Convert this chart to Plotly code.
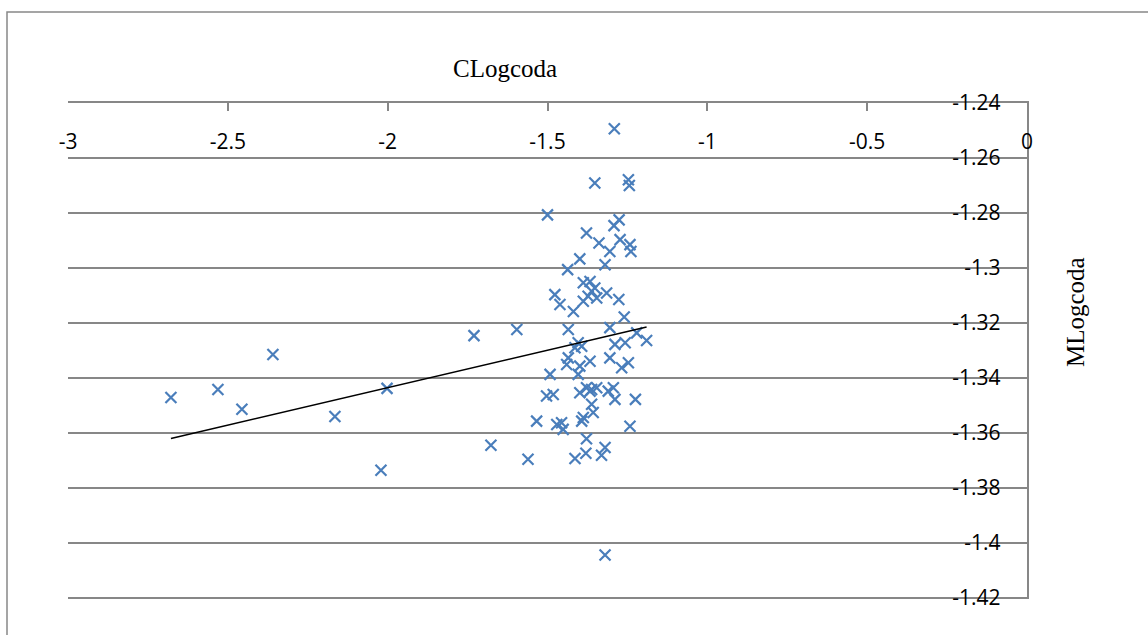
import numpy as np
import plotly.graph_objects as go

# CLogcoda (x) and MLogcoda (y) values
clog = [-2.678, -2.531, -2.456, -2.359, -2.165, -2.021, -2.002, -1.730, -1.677, -1.596,
        -1.561, -1.500, -1.291, -1.352, -1.247, -1.244, -1.276, -1.292, -1.378, -1.339,
        -1.273, -1.305, -1.242, -1.239, -1.399, -1.437, -1.320, -1.367, -1.388, -1.352,
        -1.362, -1.373, -1.346, -1.388, -1.477, -1.461, -1.419, -1.315, -1.277, -1.260,
        -1.435, -1.305, -1.221, -1.190, -1.289, -1.257, -1.404, -1.414, -1.393, -1.435,
        -1.440, -1.367, -1.305, -1.247, -1.268, -1.399, -1.492, -1.404, -1.503, -1.482,
        -1.399, -1.378, -1.362, -1.346, -1.367, -1.310, -1.294, -1.289, -1.225, -1.362,
        -1.357, -1.388, -1.393, -1.534, -1.471, -1.456, -1.451, -1.242, -1.378, -1.414,
        -1.380, -1.331, -1.320, -1.320]
mlog = [-1.3471, -1.3442, -1.3514, -1.3315, -1.3540, -1.3736, -1.3438, -1.3246, -1.3645, -1.3224,
        -1.3696, -1.2807, -1.2494, -1.2691, -1.2679, -1.2700, -1.2825, -1.2846, -1.2873, -1.2909,
        -1.2897, -1.2940, -1.2915, -1.2940, -1.2967, -1.3006, -1.2988, -1.3049, -1.3054, -1.3073,
        -1.3085, -1.3103, -1.3109, -1.3121, -1.3097, -1.3133, -1.3158, -1.3091, -1.3115, -1.3178,
        -1.3224, -1.3217, -1.3236, -1.3264, -1.3278, -1.3272, -1.3272, -1.3290, -1.3285, -1.3327,
        -1.3351, -1.3339, -1.3327, -1.3345, -1.3363, -1.3357, -1.3387, -1.3387, -1.3466, -1.3460,
        -1.3454, -1.3436, -1.3442, -1.3436, -1.3448, -1.3448, -1.3436, -1.3478, -1.3478, -1.3496,
        -1.3526, -1.3544, -1.3557, -1.3557, -1.3569, -1.3563, -1.3587, -1.3576, -1.3621, -1.3693,
        -1.3674, -1.3681, -1.3653, -1.4044]

x_ticks = [-3, -2.5, -2, -1.5, -1, -0.5, 0]
x_tick_labels = ["-3", "-2.5", "-2", "-1.5", "-1", "-0.5", "0"]
y_ticks = [-1.42, -1.40, -1.38, -1.36, -1.34, -1.32, -1.30, -1.28, -1.26, -1.24]
y_tick_labels = ["-1.42", "-1.4", "-1.38", "-1.36", "-1.34", "-1.32", "-1.3", "-1.28", "-1.26", "-1.24"]

x_title = "CLogcoda"
y_title = "MLogcoda"

# linear trendline (least squares), drawn across the data range
xa = np.array(clog)
ya = np.array(mlog)
slope, intercept = np.polyfit(xa, ya, 1)
trend_x = [xa.min(), xa.max()]
trend_y = [slope * v + intercept for v in trend_x]

grid_col = "#878787"
tick_font = dict(family="Open Sans, Liberation Sans, sans-serif", size=21, color="#000000")
title_font = dict(family="Liberation Serif, Times New Roman, serif", size=25, color="#000000")

fig = go.Figure()
fig.add_trace(go.Scatter(
    x=clog, y=mlog, mode="markers",
    marker=dict(symbol="x-thin", size=11, line=dict(color="#4a7ebb", width=2.2), color="#4a7ebb"),
    showlegend=False, hoverinfo="x+y"))
fig.add_trace(go.Scatter(
    x=trend_x, y=trend_y, mode="lines",
    line=dict(color="#000000", width=1.6), showlegend=False, hoverinfo="skip"))

fig.update_layout(
    width=1148, height=635,
    margin=dict(l=68, r=121, t=103, b=36),
    paper_bgcolor="white", plot_bgcolor="white",
    xaxis=dict(range=[-3, 0], side="top", tickvals=x_ticks, ticktext=x_tick_labels,
               ticks="inside", ticklen=8, tickcolor=grid_col, tickwidth=1.5,
               ticklabelposition="inside", ticklabelstandoff=25, ticklabeloverflow="allow",
               showline=True, linecolor=grid_col, linewidth=1.5,
               showgrid=False, zeroline=False, tickfont=tick_font, fixedrange=True),
    yaxis=dict(range=[-1.4204, -1.24], side="right", tickvals=y_ticks, ticktext=y_tick_labels,
               ticks="inside", ticklen=8, tickcolor=grid_col, tickwidth=1.5,
               ticklabelposition="inside", ticklabelstandoff=20, ticklabeloverflow="allow",
               showline=True, linecolor=grid_col, linewidth=1.5,
               showgrid=True, gridcolor=grid_col, gridwidth=1.5,
               zeroline=False, tickfont=tick_font, fixedrange=True),
    annotations=[
        dict(text=x_title, xref="paper", yref="paper", x=(505 - 68) / 959, y=(599 - 68) / 496,
             xanchor="center", yanchor="middle", showarrow=False, font=title_font),
        dict(text=y_title, xref="paper", yref="paper", x=(1075 - 68) / 959, y=(599 - 312) / 496,
             xanchor="center", yanchor="middle", showarrow=False, textangle=-90, font=title_font),
    ],
    shapes=[dict(type="rect", xref="paper", yref="paper",
                 x0=(7 - 68) / 959, x1=(1200 - 68) / 959,
                 y0=(599 - 700) / 496, y1=(599 - 12) / 496,
                 line=dict(color="#888888", width=1.5), fillcolor="rgba(0,0,0,0)", layer="below")],
)

fig.write_html("out.html", config={"displayModeBar": False},
               post_script="document.body.style.margin='0px';document.body.style.overflow='hidden';")
